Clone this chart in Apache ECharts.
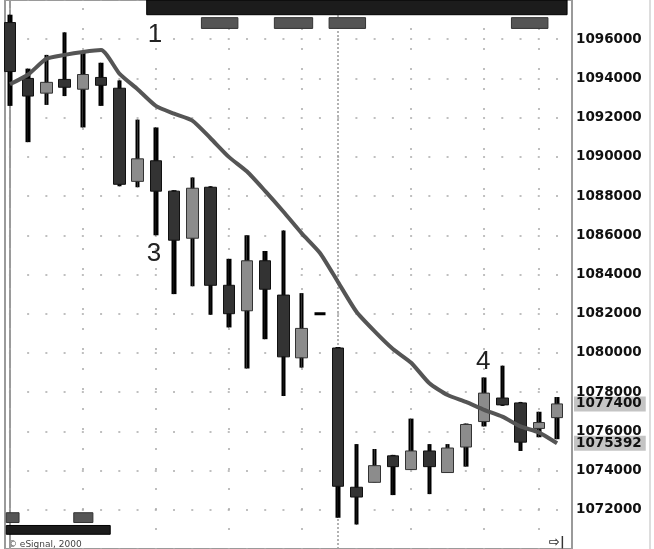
<!DOCTYPE html>
<html>
<head>
<meta charset="utf-8">
<script src="https://cdn.jsdelivr.net/npm/echarts@6/dist/echarts.min.js"></script>
<style>
  html, body { margin: 0; padding: 0; background: #fff; }
  #chart { width: 654px; height: 549px; }
</style>
</head>
<body>
<div id="chart"></div>
<script>
// bar index (x), open, close, low, high
const opens  = [1096850, 1094000, 1093250, 1093950, 1093450, 1094050, 1093500, 1088750, 1089800, 1088250,
                1085850, 1088450, 1083450, 1082150, 1084700, 1082950, 1079750, 1082000, 1080250, 1073150,
                1073400, 1074750, 1074050, 1075000, 1073900, 1075200, 1076500, 1077700, 1077450, 1076150, 1076700]
const closes = [1094350, 1093100, 1093800, 1093550, 1094200, 1093650, 1088600, 1089900, 1088250, 1085750,
                1088400, 1083450, 1082000, 1084700, 1083250, 1079800, 1081250, 1082000, 1073200, 1072650,
                1074250, 1074200, 1075000, 1074200, 1075150, 1076350, 1077950, 1077350, 1075450, 1076450, 1077400]
const lows   = [1092600, 1090750, 1092650, 1093100, 1091500, 1092600, 1088500, 1088450, 1086000, 1083000,
                1083400, 1081950, 1081300, 1079200, 1080700, 1077800, 1079250, 1082000, 1071600, 1071250,
                1073400, 1072750, 1074050, 1072800, 1073900, 1074200, 1076250, 1077300, 1075000, 1075700, 1075600]
const highs  = [1097250, 1094500, 1095200, 1096350, 1095350, 1094800, 1093900, 1091900, 1091500, 1088300,
                1088950, 1088500, 1084800, 1086000, 1085200, 1086250, 1083050, 1082000, 1080300, 1075350,
                1075100, 1074800, 1076650, 1075350, 1075350, 1076400, 1078750, 1079350, 1077500, 1077000, 1077750]
// moving average
const maValues = [1093700, 1094200, 1095000, 1095200, 1095350, 1095450, 1094250, 1093450, 1092600, 1092200,
                  1091850, 1090950, 1090000, 1089250, 1088250, 1087200, 1086100, 1085100, 1083600, 1082100,
                  1081100, 1080200, 1079500, 1078450, 1077850, 1077500, 1077100, 1076750, 1076250, 1075950, 1075392]
const dojiIndex = 17
const lastPrice = 1077400
const lastMa = 1075392

// vertical grid columns and the session break
const gridCols = [0, 4, 8, 12, 16, 22, 26, 29]
const sessionBreak = 18

// session bars (from index, to index, low value, high value, kind)
const bandFrom = [7.5, 10.5, 14.5, 17.5, 27.5, -0.2, 3.5, -0.2]
const bandTo   = [30.55, 12.5, 16.6, 19.5, 29.5, 0.5, 4.55, 5.5]
const bandLow  = [1097250, 1096550, 1096550, 1096550, 1096550, 1071350, 1071350, 1070750]
const bandHigh = [1098000, 1097100, 1097100, 1097100, 1097100, 1071850, 1071850, 1071200]
const bandKind = ['black', 'gray', 'gray', 'gray', 'gray', 'gray', 'gray', 'black']

// wave labels
const noteText = ['1', '3', '4']
const noteX = [7.95, 7.9, 25.95]
const noteY = [1096200, 1085050, 1079550]

const chart = echarts.init(document.getElementById('chart'))

const wickData = opens.map((o, i) => [i, lows[i], highs[i], lows[i], highs[i]])
const candleData = opens.map((o, i) => {
  const item = { value: [i, o, closes[i], lows[i], highs[i]] }
  if (i === dojiIndex) {
    item.itemStyle = { borderWidth: 3, borderColor: '#000', borderColor0: '#000' }
  }
  return item
})
const maData = maValues.map((v, i) => [i, v])

const bandStyle = {
  black: { color: '#1c1c1c', borderColor: '#000', borderWidth: 1 },
  gray: { color: '#555', borderColor: '#333', borderWidth: 1 }
}
const bands = bandFrom.map((f, i) => [
  { xAxis: f, yAxis: bandLow[i], itemStyle: bandStyle[bandKind[i]] },
  { xAxis: bandTo[i], yAxis: bandHigh[i] }
])

const labelStyle = {
  color: '#111',
  fontFamily: 'DejaVu Sans',
  fontWeight: 'bold',
  fontSize: 13.5
}

const option = {
  animation: false,
  backgroundColor: '#fff',
  grid: {
    left: 5, right: 82, top: -8, bottom: -3,
    show: true, borderColor: '#9a9a9a', borderWidth: 2, backgroundColor: '#fff'
  },
  xAxis: {
    type: 'value',
    min: -0.27,
    max: 30.82,
    show: false
  },
  yAxis: {
    type: 'value',
    position: 'right',
    min: 1070000,
    max: 1098000,
    interval: 2000,
    axisLine: { show: true, lineStyle: { color: '#9a9a9a', width: 2 } },
    axisTick: { show: false },
    axisLabel: {
      showMinLabel: false,
      showMaxLabel: false,
      margin: 4,
      formatter: v => String(v),
      ...labelStyle
    },
    splitLine: {
      show: true,
      lineStyle: { color: '#aaa', width: 1.5, type: [2, 16.237], dashOffset: 14.34 }
    }
  },
  series: [
    {
      // grid columns and session bars, behind the candles
      type: 'line',
      data: [],
      z: 1,
      silent: true,
      markLine: {
        silent: true,
        z: 1,
        symbol: 'none',
        label: { show: false },
        data: gridCols.map(c => ({ xAxis: c, lineStyle: { color: '#aaa', width: 1.5, type: [2, 18], dashOffset: 1 } }))
          .concat([{ xAxis: sessionBreak, lineStyle: { color: '#999', width: 1.5, type: [2, 2] } }])
      },
      markArea: {
        silent: true,
        z: 6,
        data: bands
      }
    },
    {
      type: 'candlestick',
      barWidth: 5,
      z: 2,
      data: wickData,
      itemStyle: { color: '#000', color0: '#000', borderColor: '#000', borderColor0: '#000', borderWidth: 0 }
    },
    {
      type: 'candlestick',
      barWidth: 12,
      z: 3,
      data: candleData,
      itemStyle: {
        color: '#8c8c8c', color0: '#333',
        borderColor: '#333', borderColor0: '#111', borderWidth: 1
      }
    },
    {
      type: 'line',
      data: maData,
      symbol: 'none',
      smooth: 0.2,
      lineStyle: { color: '#555', width: 4 },
      z: 5,
      markLine: {
        silent: true,
        symbol: 'none',
        lineStyle: { color: 'rgba(0,0,0,0)', width: 0 },
        label: {
          show: true,
          position: 'end',
          distance: 2,
          formatter: p => String(p.value),
          backgroundColor: '#c4c4c4',
          padding: [1, 4, 0, 2],
          ...labelStyle
        },
        data: [{ yAxis: lastPrice }, { yAxis: lastMa }]
      },
      markPoint: {
        silent: true,
        symbol: 'circle',
        symbolSize: 0,
        label: {
          show: true,
          position: 'inside',
          formatter: p => p.name,
          color: '#222',
          fontFamily: 'Liberation Sans',
          fontSize: 26
        },
        data: noteText.map((t, i) => ({ name: t, coord: [noteX[i], noteY[i]] }))
      }
    }
  ],
  graphic: [
    { type: 'text', left: 8, top: 540, style: { text: '© eSignal, 2000', fill: '#444', font: '9px "DejaVu Sans"' } },
    { type: 'text', left: 549, top: 536, style: { text: '⇨|', fill: '#333', font: 'bold 13px "DejaVu Sans"' } },
    { type: 'line', shape: { x1: 650, y1: 0, x2: 650, y2: 549 }, style: { stroke: '#ddd', lineWidth: 2 } }
  ]
}

chart.setOption(option)
</script>
</body>
</html>
